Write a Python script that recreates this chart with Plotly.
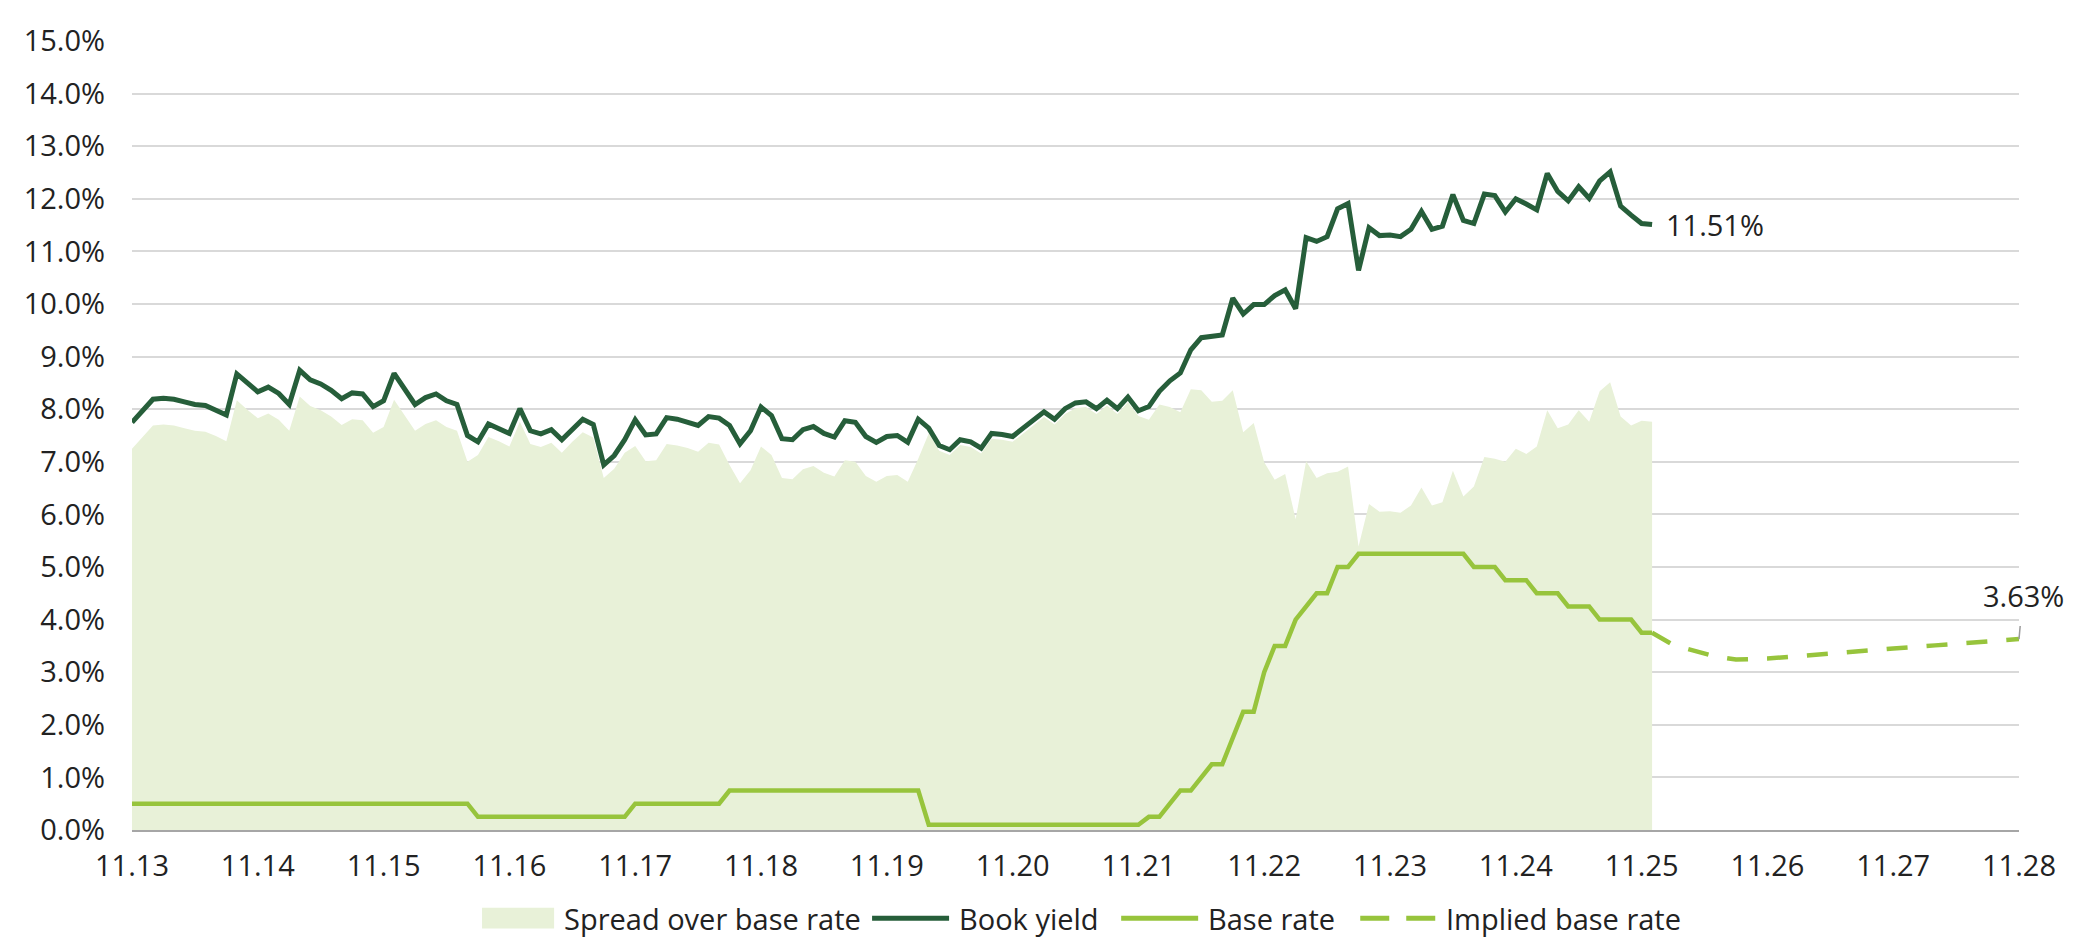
import plotly.graph_objects as go

# ---------------- data ----------------
x_tick_labels = ["11.13", "11.14", "11.15", "11.16", "11.17", "11.18", "11.19", "11.20",
                 "11.21", "11.22", "11.23", "11.24", "11.25", "11.26", "11.27", "11.28"]

# monthly book yield, Nov 2013 .. Dec 2025 (%)
book_yield = [
    7.75, 7.98, 8.19, 8.21, 8.19, 8.14, 8.09, 8.07, 7.99, 7.89,
    8.67, 8.49, 8.33, 8.42, 8.30, 8.09, 8.74, 8.56, 8.48, 8.36,
    8.20, 8.31, 8.29, 8.05, 8.16, 8.68, 8.38, 8.09, 8.22, 8.29,
    8.16, 8.09, 7.50, 7.38, 7.72, 7.64, 7.54, 8.01, 7.59, 7.53,
    7.61, 7.42, 7.63, 7.81, 7.71, 6.94, 7.12, 7.42, 7.80, 7.51,
    7.53, 7.84, 7.81, 7.76, 7.69, 7.86, 7.83, 7.69, 7.34, 7.59,
    8.04, 7.88, 7.44, 7.42, 7.61, 7.67, 7.54, 7.47, 7.78, 7.75,
    7.48, 7.37, 7.48, 7.50, 7.37, 7.81, 7.64, 7.31, 7.23, 7.42,
    7.38, 7.26, 7.54, 7.52, 7.48, 7.64, 7.79, 7.95, 7.81, 8.01,
    8.12, 8.14, 8.01, 8.17, 8.01, 8.23, 7.97, 8.05, 8.34, 8.54,
    8.69, 9.13, 9.36, 9.39, 9.41, 10.11, 9.81, 9.99, 9.99, 10.16,
    10.27, 9.91, 11.26, 11.19, 11.28, 11.81, 11.91, 10.64, 11.45, 11.30,
    11.31, 11.28, 11.42, 11.76, 11.42, 11.48, 12.08, 11.59, 11.53, 12.09,
    12.06, 11.75, 12.00, 11.90, 11.79, 12.48, 12.14, 11.96, 12.23, 12.01,
    12.34, 12.51, 11.86, 11.69, 11.53, 11.51,
]

# monthly base rate, Nov 2013 .. Dec 2025 (%)
base_rate = [
    0.5, 0.5, 0.5, 0.5, 0.5, 0.5, 0.5, 0.5, 0.5, 0.5,
    0.5, 0.5, 0.5, 0.5, 0.5, 0.5, 0.5, 0.5, 0.5, 0.5,
    0.5, 0.5, 0.5, 0.5, 0.5, 0.5, 0.5, 0.5, 0.5, 0.5,
    0.5, 0.5, 0.5, 0.25, 0.25, 0.25, 0.25, 0.25, 0.25, 0.25,
    0.25, 0.25, 0.25, 0.25, 0.25, 0.25, 0.25, 0.25, 0.5, 0.5,
    0.5, 0.5, 0.5, 0.5, 0.5, 0.5, 0.5, 0.75, 0.75, 0.75,
    0.75, 0.75, 0.75, 0.75, 0.75, 0.75, 0.75, 0.75, 0.75, 0.75,
    0.75, 0.75, 0.75, 0.75, 0.75, 0.75, 0.1, 0.1, 0.1, 0.1,
    0.1, 0.1, 0.1, 0.1, 0.1, 0.1, 0.1, 0.1, 0.1, 0.1,
    0.1, 0.1, 0.1, 0.1, 0.1, 0.1, 0.1, 0.25, 0.25, 0.5,
    0.75, 0.75, 1.0, 1.25, 1.25, 1.75, 2.25, 2.25, 3.0, 3.5,
    3.5, 4.0, 4.25, 4.5, 4.5, 5.0, 5.0, 5.25, 5.25, 5.25,
    5.25, 5.25, 5.25, 5.25, 5.25, 5.25, 5.25, 5.25, 5.0, 5.0,
    5.0, 4.75, 4.75, 4.75, 4.5, 4.5, 4.5, 4.25, 4.25, 4.25,
    4.0, 4.0, 4.0, 4.0, 3.75, 3.75,
]

# implied base rate (month index since Nov 2013, %)
implied_month_idx = [145, 147, 151, 153, 156, 160, 164, 168, 172, 176, 180]
implied_rate = [3.75, 3.52, 3.30, 3.24, 3.26, 3.33, 3.39, 3.45, 3.51, 3.57, 3.63]

legend_labels = ["Spread over base rate", "Book yield", "Base rate", "Implied base rate"]

# ---------------- derived ----------------
months = list(range(len(book_yield)))
spread = [round(b - r, 2) for b, r in zip(book_yield, base_rate)]
tick_vals = [12 * i for i in range(len(x_tick_labels))]

DARK = "#265E3A"
LIGHT = "#97C43C"
FILL = "#E8F1D8"
FONT = "Open Sans"
FS = 29
TXT = "#222222"

fig = go.Figure()
fig.add_trace(go.Scatter(x=months, y=spread, mode="lines", fill="tozeroy",
                         line=dict(width=0, color=FILL), fillcolor=FILL,
                         name=legend_labels[0], showlegend=False, hoverinfo="skip"))
fig.add_trace(go.Scatter(x=months, y=base_rate, mode="lines",
                         line=dict(width=4.5, color=LIGHT), name=legend_labels[2], showlegend=False))
fig.add_trace(go.Scatter(x=implied_month_idx, y=implied_rate, mode="lines",
                         line=dict(width=4.5, color=LIGHT, dash="21px,19px"),
                         name=legend_labels[3], showlegend=False))
fig.add_trace(go.Scatter(x=months, y=book_yield, mode="lines",
                         line=dict(width=5, color=DARK), name=legend_labels[1], showlegend=False))

# end-value labels
fig.add_annotation(x=months[-1], y=book_yield[-1], text=f"{book_yield[-1]:.2f}%",
                   showarrow=False, xanchor="left", xshift=12,
                   font=dict(family=FONT, size=FS, color=TXT))
fig.add_annotation(x=implied_month_idx[-1], y=implied_rate[-1], text=f"{implied_rate[-1]:.2f}%",
                   showarrow=True, arrowhead=0, arrowwidth=1.5, arrowcolor="#9a9a9a",
                   ax=4, ay=-44, startstandoff=10,
                   font=dict(family=FONT, size=FS, color=TXT))

# custom legend (paper coordinates)
leg_y = -0.1117
items = [
    ("patch", 0.1855, 0.2237, legend_labels[0]),
    ("solid_dark", 0.3922, 0.4330, legend_labels[1]),
    ("solid_light", 0.5242, 0.5650, legend_labels[2]),
    ("dash_light", 0.6509, 0.6912, legend_labels[3]),
]
for kind, x0, x1, label in items:
    if kind == "patch":
        fig.add_shape(type="rect", xref="paper", yref="paper", x0=x0, x1=x1,
                      y0=leg_y - 0.013, y1=leg_y + 0.013, fillcolor=FILL, line=dict(width=0))
    else:
        col = DARK if kind == "solid_dark" else LIGHT
        dash = "solid" if kind != "dash_light" else "29px,17px"
        fig.add_shape(type="line", xref="paper", yref="paper", x0=x0, x1=x1,
                      y0=leg_y, y1=leg_y, line=dict(color=col, width=5, dash=dash))
    fig.add_annotation(xref="paper", yref="paper", x=x1 + 0.004, y=leg_y, text=label,
                       showarrow=False, xanchor="left", yanchor="middle",
                       font=dict(family=FONT, size=FS, color=TXT))

fig.update_layout(
    width=2078, height=938,
    margin=dict(l=124, r=67, t=22, b=116),
    paper_bgcolor="white", plot_bgcolor="white",
    font=dict(family=FONT, size=FS, color=TXT),
    showlegend=False,
)
fig.update_xaxes(range=[0, 180], tickvals=tick_vals, ticktext=x_tick_labels,
                 showgrid=False, zeroline=False, showline=True, linecolor="#a6a6a6",
                 linewidth=2, ticks="", ticklabelstandoff=9,
                 tickfont=dict(family=FONT, size=FS, color=TXT))
fig.update_yaxes(range=[0, 15], dtick=1, tick0=0, tickformat=".1f", ticksuffix="%",
                 showgrid=True, gridcolor="#d9d9d9", gridwidth=2, zeroline=False,
                 ticks="", ticklabelstandoff=26,
                 tickfont=dict(family=FONT, size=FS, color=TXT))

fig.write_html("out.html")
